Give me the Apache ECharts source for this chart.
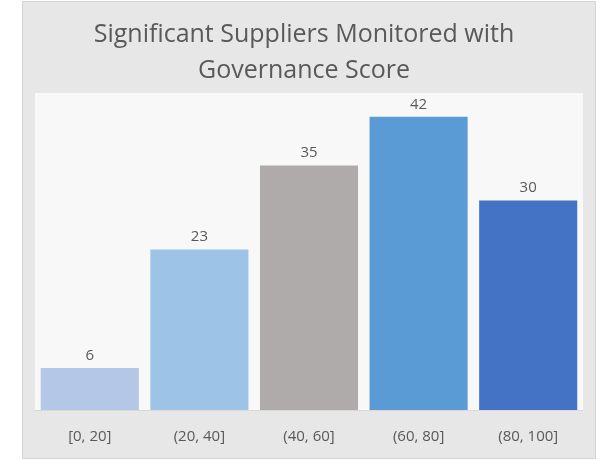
<!DOCTYPE html>
<html>
<head>
<meta charset="utf-8">
<script src="https://cdn.jsdelivr.net/npm/echarts@6/dist/echarts.min.js"></script>
<style>
	html, body { margin: 0; padding: 0; background: #ffffff; }
	#chart { width: 608px; height: 460px; }
</style>
</head>
<body>
<div id="chart"></div>
<script>
// score buckets and supplier counts
const categories = ['[0, 20]', '(20, 40]', '(40, 60]', '(60, 80]', '(80, 100]'];
const supplierCounts = [6, 23, 35, 42, 30];
const barColors = ['#B4C7E7', '#9DC3E6', '#AFABAB', '#5B9BD5', '#4472C4'];

const textColor = '#595959';
const font = '"Open Sans", "Liberation Sans", sans-serif';

const chart = echarts.init(document.getElementById('chart'));

const option = {
	backgroundColor: '#ffffff',
	animation: false,
	// outer chart frame
	graphic: [
		{
			type: 'rect',
			z: -10,
			shape: { x: 22.5, y: 1.5, width: 573, height: 457 },
			style: { fill: '#E7E7E7', stroke: '#D4D4D4', lineWidth: 1 },
		},
	],
	title: {
		text: 'Significant Suppliers Monitored with\nGovernance Score',
		left: 'center',
		top: 12,
		textStyle: {
			color: textColor,
			fontFamily: font,
			fontWeight: 'normal',
			fontSize: 25,
			lineHeight: 36,
		},
	},
	grid: {
		left: 35,
		right: 25,
		top: 93,
		bottom: 50,
		show: true,
		backgroundColor: '#F8F8F8',
		borderWidth: 0,
	},
	xAxis: {
		type: 'category',
		data: categories,
		axisTick: { show: false },
		axisLine: { lineStyle: { color: '#D9D9D9', width: 1 } },
		axisLabel: {
			color: textColor,
			fontFamily: font,
			fontSize: 15,
			margin: 19,
		},
	},
	yAxis: {
		type: 'value',
		min: 0,
		max: 45.4,
		show: false,
		splitLine: { show: false },
	},
	series: [
		{
			type: 'bar',
			barCategoryGap: '10.5%',
			data: supplierCounts.map((v, i) => ({ value: v, itemStyle: { color: barColors[i] } })),
			label: {
				show: true,
				position: 'top',
				distance: 5,
				color: textColor,
				fontFamily: font,
				fontSize: 15,
			},
		},
	],
};

chart.setOption(option);
</script>
</body>
</html>
